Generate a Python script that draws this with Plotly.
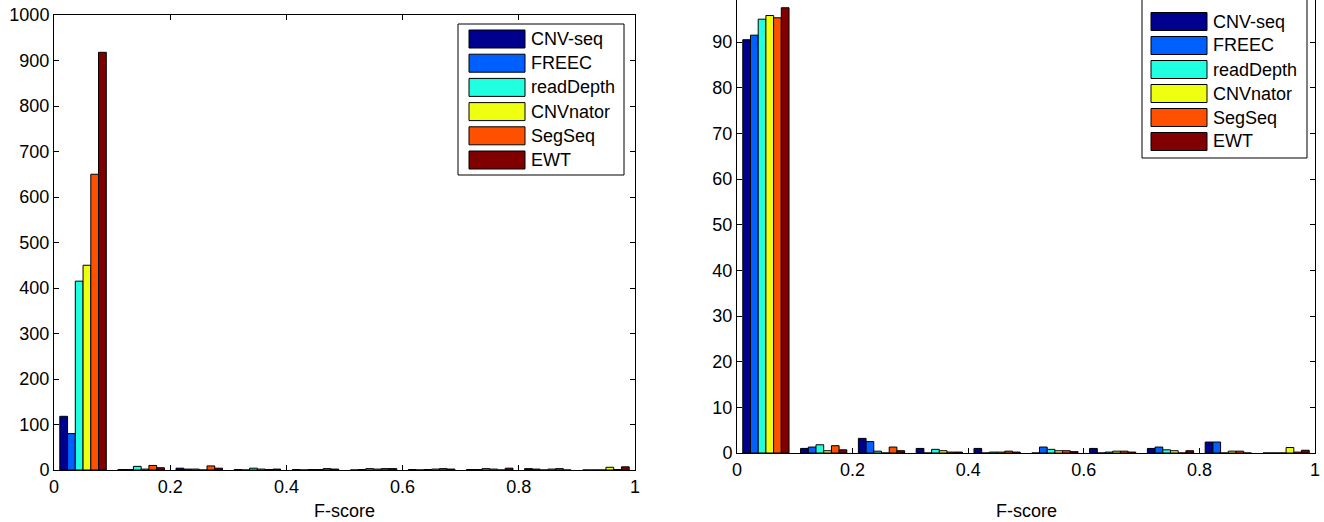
import plotly.graph_objects as go

W, H = 1324, 522

bins = [0.05, 0.15, 0.25, 0.35, 0.45, 0.55, 0.65, 0.75, 0.85, 0.95]
methods = ["CNV-seq", "FREEC", "readDepth", "CNVnator", "SegSeq", "EWT"]
colors = ["#00008F", "#0060FF", "#20FFDF", "#EFFF10", "#FF5000", "#800000"]

# left panel: counts
counts_cnvseq = [118, 1, 4, 1, 1, 0, 1, 1, 3, 0]
counts_freec = [80, 1, 2, 0, 0, 1, 0, 1, 2, 0]
counts_readdepth = [415, 8, 2, 4, 1, 3, 1, 3, 0, 0]
counts_cnvnator = [450, 2, 0, 2, 1, 2, 2, 2, 2, 6]
counts_segseq = [650, 10, 9, 1, 3, 3, 3, 0, 3, 1]
counts_ewt = [918, 5, 4, 2, 2, 3, 2, 4, 0, 7]

# right panel: percentages
pct_cnvseq = [90.5, 1.0, 3.2, 1.0, 1.0, 0, 1.0, 1.0, 2.4, 0]
pct_freec = [91.5, 1.3, 2.5, 0, 0, 1.3, 0, 1.3, 2.4, 0]
pct_readdepth = [95.0, 1.8, 0.4, 0.8, 0.2, 0.8, 0.2, 0.7, 0, 0]
pct_cnvnator = [95.8, 0.5, 0, 0.5, 0.2, 0.5, 0.4, 0.5, 0.4, 1.2]
pct_segseq = [95.3, 1.6, 1.3, 0.2, 0.4, 0.5, 0.4, 0, 0.4, 0.2]
pct_ewt = [97.5, 0.7, 0.5, 0.2, 0.2, 0.3, 0.2, 0.5, 0, 0.6]

x_tickvals = [0, 0.2, 0.4, 0.6, 0.8, 1]
x_ticktext = ["0", "0.2", "0.4", "0.6", "0.8", "1"]

left_series = [counts_cnvseq, counts_freec, counts_readdepth, counts_cnvnator, counts_segseq, counts_ewt]
right_series = [pct_cnvseq, pct_freec, pct_readdepth, pct_cnvnator, pct_segseq, pct_ewt]

FONT = "Arial, Liberation Sans, sans-serif"
FS = 18

fig = go.Figure()
for name, col, vals in zip(methods, colors, left_series):
    fig.add_trace(go.Bar(x=bins, y=vals, name=name, marker=dict(color=col, line=dict(color="black", width=1)),
                         xaxis="x", yaxis="y", showlegend=False, offsetgroup=name))
for name, col, vals in zip(methods, colors, right_series):
    fig.add_trace(go.Bar(x=bins, y=vals, name=name, marker=dict(color=col, line=dict(color="black", width=1)),
                         xaxis="x2", yaxis="y2", showlegend=False, offsetgroup=name))

def px(x):
    return x / W

def py(y):
    return 1 - y / H

axis_common = dict(showline=True, linecolor="black", linewidth=1, ticks="inside", ticklen=5,
                   tickcolor="black", showgrid=False, zeroline=False, automargin=False,
                   tickfont=dict(family=FONT, size=FS, color="black"))

fig.update_layout(
    width=W, height=H, autosize=False,
    margin=dict(l=0, r=0, t=0, b=0, pad=0),
    paper_bgcolor="white", plot_bgcolor="white",
    barmode="group", bargap=0.2, bargroupgap=0,
    showlegend=False,
    font=dict(family=FONT, size=FS, color="black"),
    xaxis=dict(domain=[px(54), px(635)], range=[0, 1], tickvals=x_tickvals, ticktext=x_ticktext,
               anchor="y", mirror="ticks", **axis_common),
    yaxis=dict(domain=[py(470), py(15)], range=[0, 1000], dtick=100, anchor="x", mirror="ticks", **axis_common),
    xaxis2=dict(domain=[px(737), px(1315)], range=[0, 1], tickvals=x_tickvals, ticktext=x_ticktext,
                anchor="y2", mirror=False, **axis_common),
    yaxis2=dict(domain=[py(453), 1.0], range=[0, 99.2], tickvals=list(range(0, 100, 10)), anchor="x2",
                mirror="ticks", **axis_common),
)

# x titles
fig.add_annotation(x=px(344.5), y=py(511), xref="paper", yref="paper", text="F-score", showarrow=False,
                   font=dict(family=FONT, size=FS, color="black"), xanchor="center", yanchor="middle")
fig.add_annotation(x=px(1026), y=py(511), xref="paper", yref="paper", text="F-score", showarrow=False,
                   font=dict(family=FONT, size=FS, color="black"), xanchor="center", yanchor="middle")

# custom legends (MATLAB style)
def legend(box_l, box_t, box_r, box_b, sw_l, sw_r, first_c, pitch, text_x):
    fig.add_shape(type="rect", xref="paper", yref="paper", x0=px(box_l), x1=px(box_r), y0=py(box_b), y1=py(box_t),
                  line=dict(color="black", width=1), fillcolor="white", layer="above")
    for i, (name, col) in enumerate(zip(methods, colors)):
        c = first_c + i * pitch
        fig.add_shape(type="rect", xref="paper", yref="paper", x0=px(sw_l), x1=px(sw_r), y0=py(c + 9), y1=py(c - 9),
                      line=dict(color="black", width=1), fillcolor=col, layer="above")
        fig.add_annotation(x=px(text_x), y=py(c), xref="paper", yref="paper", text=name, showarrow=False,
                           xanchor="left", yanchor="middle", font=dict(family=FONT, size=FS, color="black"))

legend(458, 24, 624, 175, 469, 525, 39, 24.2, 529)
legend(1142, -5, 1307, 158, 1151, 1207, 21.5, 24.0, 1211)

fig.write_html("out.html", config={"displayModeBar": False, "staticPlot": True},
               post_script="document.body.style.margin='0';document.body.style.overflow='hidden';")
